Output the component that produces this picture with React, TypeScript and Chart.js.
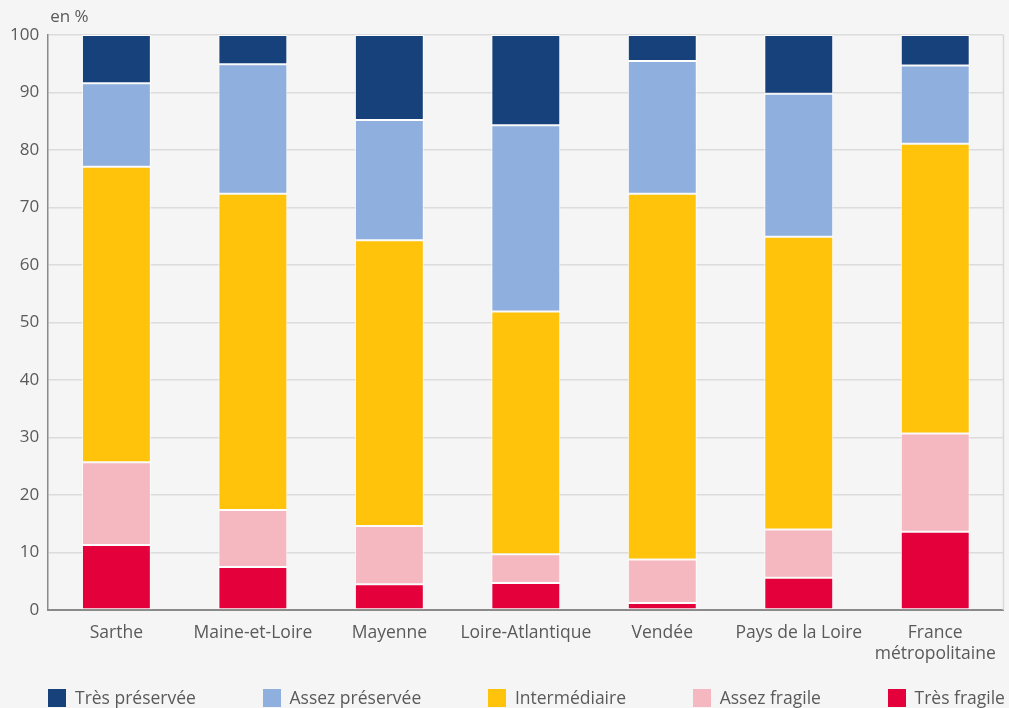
import React, { useEffect, useRef } from "react";
import { Chart, registerables } from "chart.js";

Chart.register(...registerables);

const categories: (string | string[])[] = [
  "Sarthe",
  "Maine-et-Loire",
  "Mayenne",
  "Loire-Atlantique",
  "Vendée",
  "Pays de la Loire",
  ["France", "métropolitaine"],
];

const tresFragile = [11.3, 7.5, 4.5, 4.7, 1.2, 5.6, 13.6];
const assezFragile = [14.4, 9.9, 10.1, 5.0, 7.6, 8.4, 17.1];
const intermediaire = [51.4, 55.0, 49.7, 42.2, 63.6, 50.9, 50.4];
const assezPreservee = [14.5, 22.5, 20.9, 32.4, 23.1, 24.9, 13.6];
const tresPreservee = [8.4, 5.1, 14.8, 15.7, 4.5, 10.2, 5.3];

const seriesNames = ["Très préservée", "Assez préservée", "Intermédiaire", "Assez fragile", "Très fragile"];
const seriesColors = ["#16417a", "#8fb0de", "#ffc30b", "#f5b8c1", "#e4003a"];

const yTicks = [0, 10, 20, 30, 40, 50, 60, 70, 80, 90, 100];
const unitLabel = "en %";

const FONT = "'Open Sans', 'Noto Sans', sans-serif";
const TEXT = "#5a5a5a";

export default function App() {
  const ref = useRef<HTMLCanvasElement | null>(null);

  useEffect(() => {
    if (!ref.current) return;
    document.body.style.margin = "0";
    const seriesData = [tresPreservee, assezPreservee, intermediaire, assezFragile, tresFragile];
    const datasets = seriesNames
      .map((label, i) => ({
        label,
        data: seriesData[i],
        backgroundColor: seriesColors[i],
        borderColor: "rgba(255,255,255,0.85)",
        borderWidth: 1,
        borderSkipped: false as const,
        barPercentage: 0.505,
        categoryPercentage: 1,
      }))
      .reverse();

    const extras = {
      id: "extras",
      afterDraw(chart: any) {
        const { ctx, chartArea } = chart;
        ctx.save();
        ctx.strokeStyle = "#d9d9d9";
        ctx.lineWidth = 1.5;
        ctx.beginPath();
        ctx.moveTo(chartArea.right, chartArea.top);
        ctx.lineTo(chartArea.right, chartArea.bottom);
        ctx.stroke();
        ctx.fillStyle = TEXT;
        ctx.font = `17px ${FONT}`;
        ctx.textAlign = "left";
        ctx.textBaseline = "middle";
        ctx.fillText(unitLabel, chartArea.left + 2, 17);
        ctx.restore();
      },
    };

    const chart = new Chart(ref.current, {
      type: "bar",
      data: { labels: categories as any, datasets },
      options: {
        animation: false,
        responsive: false,
        maintainAspectRatio: false,
        layout: { padding: { left: 1, right: 4, top: 35, bottom: 30 } },
        plugins: {
          legend: { display: false },
          tooltip: { enabled: false },
        },
        scales: {
          x: {
            stacked: true,
            grid: { display: false, drawTicks: false },
            border: { color: "#8a8a8a", width: 2 },
            ticks: {
              color: TEXT,
              font: { family: FONT, size: 17.5 },
              padding: 13,
              maxRotation: 0,
              autoSkip: false,
            },
          },
          y: {
            stacked: true,
            min: 0,
            max: 100,
            afterBuildTicks(axis: any) {
              axis.ticks = yTicks.map((v) => ({ value: v }));
            },
            grid: { color: "#dcdcdc", lineWidth: 1.5, drawTicks: false },
            border: { color: "#8a8a8a", width: 1.5 },
            ticks: {
              color: TEXT,
              font: { family: FONT, size: 17 },
              padding: 9,
            },
          },
        },
      },
      plugins: [extras],
    });
    return () => chart.destroy();
  }, []);

  return (
    <div style={{ position: "fixed", left: 0, top: 0, width: 1009, height: 708, background: "#f5f5f5", overflow: "hidden" }}>
      <canvas ref={ref} width={1009} height={708} style={{ width: 1009, height: 708, display: "block" }} />
      <div
        style={{
          position: "absolute",
          left: 48,
          right: 4,
          top: 688,
          display: "flex",
          justifyContent: "space-between",
          alignItems: "center",
          fontFamily: FONT,
          fontSize: 17.5,
          color: TEXT,
          lineHeight: "19px",
          whiteSpace: "nowrap",
        }}
      >
        {seriesNames.map((name, i) => (
          <div key={name} style={{ display: "flex", alignItems: "center" }}>
            <span style={{ display: "inline-block", width: 18, height: 18, background: seriesColors[i], marginRight: 9 }} />
            <span>{name}</span>
          </div>
        ))}
      </div>
    </div>
  );
}
